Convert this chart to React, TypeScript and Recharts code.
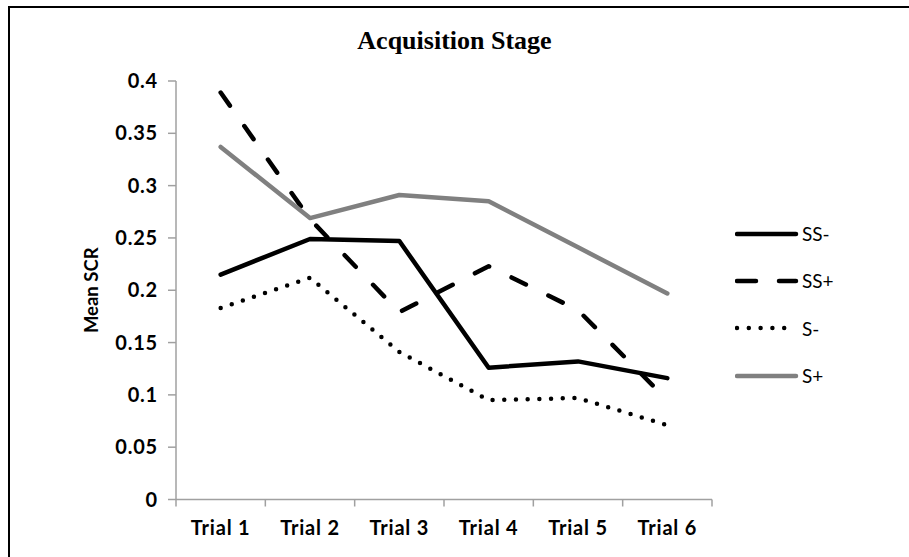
import { Line, LineChart, XAxis, YAxis } from "recharts";

const trials = ["Trial 1", "Trial 2", "Trial 3", "Trial 4", "Trial 5", "Trial 6"];
const ssMinus = [0.215, 0.249, 0.247, 0.126, 0.132, 0.116];
const ssPlus = [0.389, 0.268, 0.179, 0.223, 0.181, 0.095];
const sMinus = [0.183, 0.212, 0.141, 0.095, 0.097, 0.071];
const sPlus = [0.337, 0.269, 0.291, 0.285, 0.241, 0.197];
const yTicks = [0, 0.05, 0.1, 0.15, 0.2, 0.25, 0.3, 0.35, 0.4];

const FONT = "Lato, 'Open Sans', sans-serif";

const data = trials.map((trial, i) => ({
  x: i + 1,
  trial,
  "SS-": ssMinus[i],
  "SS+": ssPlus[i],
  "S-": sMinus[i],
  "S+": sPlus[i],
}));

const xTicks = trials.flatMap((_, i) => [i + 0.5, i + 1]).concat(trials.length + 0.5);

const series = [
  { key: "SS-", color: "#000", dash: undefined, legendDash: undefined },
  { key: "SS+", color: "#000", dash: "16 25", legendDash: "19 23" },
  { key: "S-", color: "#000", dash: "0 11.7", legendDash: "0 11.8" },
  { key: "S+", color: "#808080", dash: undefined, legendDash: undefined },
];

function TrialTick({ x, y, payload }: { x?: number; y?: number; payload?: { value: number } }) {
  if (x == null || y == null || !payload) return null;
  const v = payload.value;
  if (!Number.isInteger(v)) {
    return <line x1={x} x2={x} y1={y} y2={y + 7} stroke="#a0a0a0" strokeWidth={1.5} />;
  }
  return (
    <text
      x={x}
      y={y + 21}
      dy="0.71em"
      textAnchor="middle"
      fontFamily={FONT}
      fontWeight={700}
      fontSize={20}
      letterSpacing={0.8}
      fill="#000"
    >
      {trials[v - 1]}
    </text>
  );
}

function SeriesLegend() {
  return (
    <div style={{ position: "absolute", left: 735, top: 210 }}>
      {series.map((s) => (
        <div key={s.key} style={{ display: "flex", alignItems: "center", height: 47.3 }}>
          <svg width={66} height={10}>
            <line
              x1={2}
              x2={61}
              y1={5}
              y2={5}
              stroke={s.color}
              strokeWidth={4.5}
              strokeLinecap="round"
              strokeDasharray={s.legendDash}
            />
          </svg>
          <span style={{ fontFamily: FONT, fontSize: 19, color: "#000", marginLeft: 1 }}>{s.key}</span>
        </div>
      ))}
    </div>
  );
}

export default function App() {
  return (
    <div style={{ position: "fixed", left: 0, top: 0, width: 909, height: 557, overflow: "hidden", background: "#fff" }}>
      {/* frame: only top and left edges are inside the picture */}
      <div style={{ position: "absolute", left: 8, top: 6, width: 901, height: 2, background: "#000" }} />
      <div style={{ position: "absolute", left: 8, top: 6, width: 2, height: 551, background: "#000" }} />
      <div
        style={{
          position: "absolute",
          left: 0,
          top: 26,
          width: 909,
          textAlign: "center",
          fontFamily: "'Liberation Serif', 'Times New Roman', serif",
          fontWeight: 700,
          fontSize: 26,
          lineHeight: "30px",
        }}
      >
        Acquisition Stage
      </div>
      <div style={{ position: "absolute", left: 0, top: 0 }}>
        <LineChart width={909} height={557} data={data} margin={{ top: 81, right: 197, bottom: 27.5, left: 116 }}>
          <XAxis
            dataKey="x"
            type="number"
            domain={[0.5, trials.length + 0.5]}
            ticks={xTicks}
            interval={0}
            allowDecimals
            tickLine={false}
            tickSize={0}
            tickMargin={0}
            height={30}
            axisLine={{ stroke: "#a0a0a0", strokeWidth: 1.5 }}
            tick={<TrialTick />}
          />
          <YAxis
            type="number"
            domain={[0, 0.4]}
            ticks={yTicks}
            interval={0}
            width={60}
            tickSize={8}
            tickMargin={10}
            axisLine={{ stroke: "#a0a0a0", strokeWidth: 1.5 }}
            tickLine={{ stroke: "#a0a0a0", strokeWidth: 1.5 }}
            tick={{ fill: "#000", fontFamily: FONT, fontWeight: 700, fontSize: 20, letterSpacing: 0.8 }}
            tickFormatter={(v: number) => String(v)}
            label={{
              value: "Mean SCR",
              angle: -90,
              position: "insideLeft",
              offset: -25,
              style: { fill: "#000", fontFamily: FONT, fontWeight: 700, fontSize: 18.5, textAnchor: "middle" },
            }}
          />
          {series.map((s) => (
            <Line
              key={s.key}
              type="linear"
              dataKey={s.key}
              stroke={s.color}
              strokeWidth={4.5}
              strokeDasharray={s.dash}
              strokeLinecap="round"
              strokeLinejoin="round"
              dot={false}
              activeDot={false}
              isAnimationActive={false}
            />
          ))}
        </LineChart>
      </div>
      <SeriesLegend />
    </div>
  );
}
